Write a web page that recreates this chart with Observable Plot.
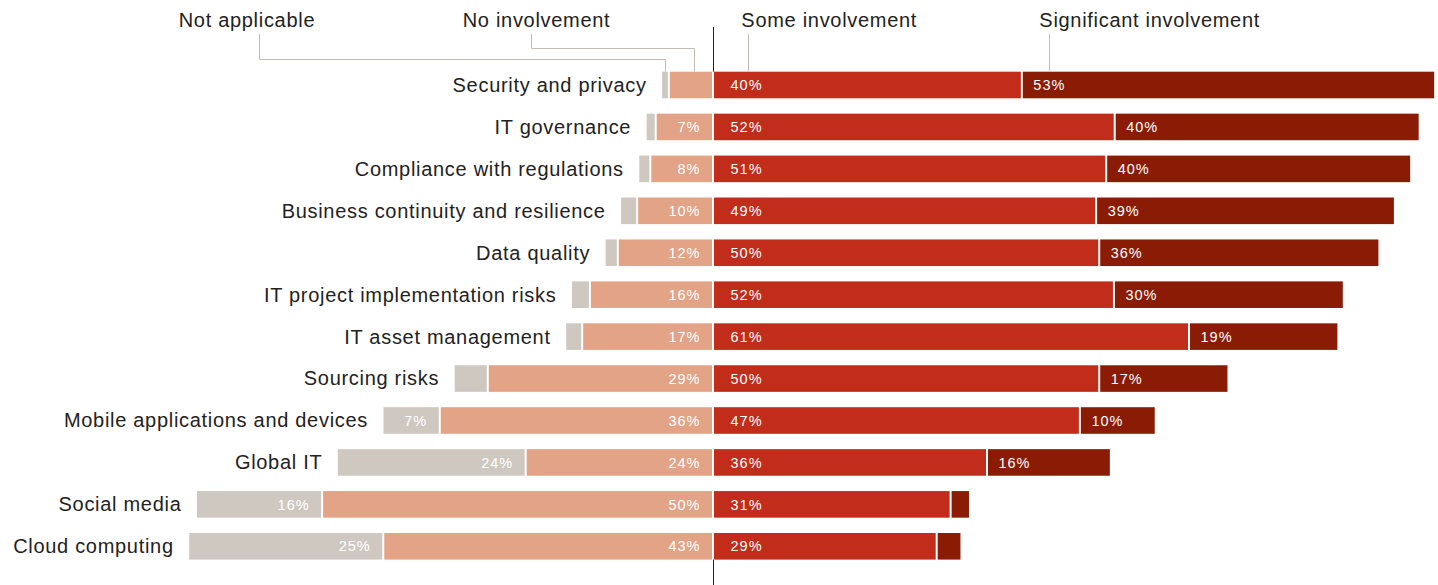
<!DOCTYPE html>
<html>
<head>
<meta charset="utf-8">
<script src="https://cdn.jsdelivr.net/npm/d3@7"></script>
<script src="https://cdn.jsdelivr.net/npm/@observablehq/plot@0.6"></script>
<style>
  body { margin: 0; background: #fff; overflow: hidden; }
  #chart svg { display: block; }
</style>
</head>
<body>
<div id="chart"></div>
<script>
// ---- Data (percent of respondents) ----
const categories = [
  "Security and privacy",
  "IT governance",
  "Compliance with regulations",
  "Business continuity and resilience",
  "Data quality",
  "IT project implementation risks",
  "IT asset management",
  "Sourcing risks",
  "Mobile applications and devices",
  "Global IT",
  "Social media",
  "Cloud computing"
];
const segments = ["Not applicable", "No involvement", "Some involvement", "Significant involvement"];

const notApplicable          = [1.0, 1.3, 1.55, 2.2, 1.7, 2.45, 2.2, 4.4, 7.4, 24.4, 16.3, 25.2];
const noInvolvement          = [5.7, 7.4, 8.1, 9.8, 12.3, 15.9, 16.9, 29.1, 35.3, 24.2, 50.5, 42.6];
const someInvolvement        = [39.9, 51.9, 50.8, 49.5, 49.9, 51.8, 61.5, 49.9, 47.4, 35.4, 30.7, 28.9];
const significantInvolvement = [53.4, 39.4, 39.4, 38.6, 36.2, 29.7, 19.3, 16.7, 9.8, 16.0, 2.5, 3.2];

// printed value labels (null = not printed)
const naLabels   = [null, null, null, null, null, null, null, null, 7, 24, 16, 25];
const noLabels   = [null, 7, 8, 10, 12, 16, 17, 29, 36, 24, 50, 43];
const someLabels = [40, 52, 51, 49, 50, 52, 61, 50, 47, 36, 31, 29];
const sigLabels  = [53, 40, 40, 39, 36, 30, 19, 17, 10, 16, null, null];

const colors = ["#cfc8c1", "#e3a386", "#c12c1b", "#8a1c05"];

// ---- Build long table ----
const rows = [];
categories.forEach((c, i) => {
  const na = notApplicable[i], no = noInvolvement[i], so = someInvolvement[i], si = significantInvolvement[i];
  rows.push({category: c, segment: segments[0], x1: -(na + no), x2: -no, label: naLabels[i], side: "left"});
  rows.push({category: c, segment: segments[1], x1: -no, x2: 0, label: noLabels[i], side: "left"});
  rows.push({category: c, segment: segments[2], x1: 0, x2: so, label: someLabels[i], side: "some"});
  rows.push({category: c, segment: segments[3], x1: so, x2: so + si, label: sigLabels[i], side: "sig"});
});
const labelled = rows.filter(d => d.label != null);

const headers = [
  {text: "Not applicable", x: -69.1},
  {text: "No involvement", x: -32.4},
  {text: "Some involvement", x: 3.6},
  {text: "Significant involvement", x: 42.1}
];

const font = "'Liberation Sans', Arial, Helvetica, sans-serif";
const pxPerPct = 7.74, center = 713, W = 1438, H = 585;
const valueSize = 14.5, bigSize = 20;

const plot = Plot.plot({
  width: W,
  height: H,
  marginTop: 56.35,
  marginBottom: 10.05,
  marginLeft: 0,
  marginRight: 0,
  x: {domain: [-center / pxPerPct, (W - center) / pxPerPct], axis: null},
  y: {domain: categories, axis: null, padding: 0.366, round: false},
  color: {domain: segments, range: colors},
  style: {fontFamily: font, background: "white", overflow: "visible"},
  marks: [
    Plot.barX(rows, {x1: "x1", x2: "x2", y: "category", fill: "segment", insetLeft: 1, insetRight: 1}),
    Plot.text(labelled.filter(d => d.side === "left"), {
      x: "x2", y: "category", text: d => d.label + "%", textAnchor: "end", dx: -13,
      fill: "white", fontSize: valueSize
    }),
    Plot.text(labelled.filter(d => d.side === "some"), {
      x: "x1", y: "category", text: d => d.label + "%", textAnchor: "start", dx: 17,
      fill: "white", fontSize: valueSize
    }),
    Plot.text(labelled.filter(d => d.side === "sig"), {
      x: "x1", y: "category", text: d => d.label + "%", textAnchor: "start", dx: 11,
      fill: "white", fontSize: valueSize
    }),
    Plot.text(categories, {
      x: (d, i) => -(notApplicable[i] + noInvolvement[i]), y: d => d, text: d => d,
      textAnchor: "end", dx: -15, fontSize: bigSize, fill: "#222"
    }),
    Plot.text(headers, {
      x: "x", text: "text", frameAnchor: "top", lineAnchor: "bottom", dy: -29.35,
      textAnchor: "start", fontSize: bigSize, fill: "#222"
    })
  ]
});

const svg = d3.select(plot);

// letter spacing to match the reference typeface width
svg.selectAll("text").each(function () {
  const holder = this.closest("[font-size]");
  const fs = holder ? +holder.getAttribute("font-size") : 0;
  this.style.letterSpacing = fs >= 18 ? "0.7px" : "1px";
});

// ---- Annotation leaders and centre line ----
const xs = plot.scale("x"), ys = plot.scale("y");
const X = v => Math.round(xs.apply(v)) + 0.5;
const barTop = ys.apply(categories[0]);
const barBottom = ys.apply(categories[categories.length - 1]) + ys.bandwidth;
const naMid = -(notApplicable[0] + noInvolvement[0]) + notApplicable[0] / 2;

const leaders = [
  [[-58.66, 34], [-58.66, 59.5], [naMid, 59.5], [naMid, barTop]],
  [[-23.5, 34], [-23.5, 48.5], [-2.4, 48.5], [-2.4, barTop]],
  [[4.5, 34], [4.5, barTop]],
  [[43.4, 34], [43.4, barTop]]
];
const g = svg.append("g").attr("fill", "none");
const lineGen = d3.line().x(p => X(p[0])).y(p => p[1]);
g.selectAll("path.leader").data(leaders).join("path")
  .attr("class", "leader")
  .attr("d", lineGen)
  .attr("stroke", "#c4bbb2")
  .attr("stroke-width", 1);
g.append("line").attr("x1", X(0)).attr("x2", X(0)).attr("y1", 27).attr("y2", barTop)
  .attr("stroke", "#222").attr("stroke-width", 1);
g.append("line").attr("x1", X(0)).attr("x2", X(0)).attr("y1", barBottom).attr("y2", H)
  .attr("stroke", "#222").attr("stroke-width", 1);

document.getElementById("chart").appendChild(plot);
</script>
</body>
</html>
